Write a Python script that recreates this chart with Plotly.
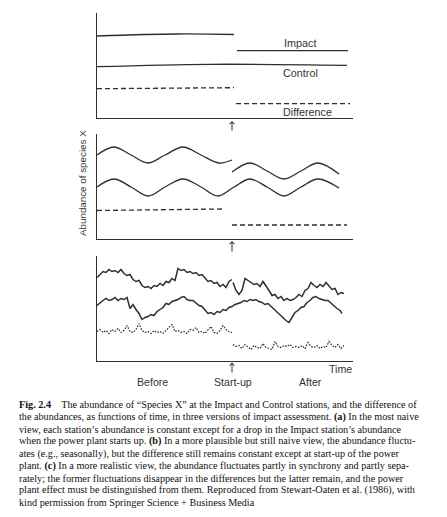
import plotly.graph_objects as go

W, H = 447, 517

# ---------------- data (time in arbitrary units 0..256, start-up at 135) ----------------
STARTUP = 135

# Panel (a): constant levels
a_impact_before_t = [0, 80, 137]
a_impact_before_v = [82, 84, 83.5]
a_impact_after_t = [140, 251]
a_impact_after_v = [67.3, 67.3]
a_control_t = [0, 113, 250]
a_control_v = [51.3, 53.7, 52.7]
a_diff_before_t = [0, 137]
a_diff_before_v = [29.3, 30.3]
a_diff_after_t = [139, 253]
a_diff_after_v = [14.3, 14.3]

# Panel (b): seasonal fluctuation (peaks / troughs / mid points)
b_impact_before_t = [0, 17, 34, 51, 68, 86, 104, 122, 135]
b_impact_before_v = [84, 92, 84, 76, 84, 92, 84, 76, 79]
b_impact_after_t = [135, 153, 170, 187, 204, 221, 242]
b_impact_after_v = [67, 76, 68, 60, 68, 76, 65]
b_control_t = [0, 17, 34, 51, 68, 86, 104, 121, 137, 153, 170, 187, 204, 221, 242]
b_control_v = [52, 60, 52, 43, 52, 60, 52, 43, 52, 60, 52, 43, 52, 60, 51]
b_diff_before_t = [0, 127]
b_diff_before_v = [28.5, 30]
b_diff_after_t = [135, 250]
b_diff_after_v = [14, 14]

# Panel (c): realistic, partly synchronous fluctuation
c_before_t = [0, 3, 6, 9, 12, 15, 18, 21, 24, 27, 30, 33, 36, 39, 42, 45, 48, 51, 54, 57,
              60, 63, 66, 69, 72, 75, 78, 81, 84, 87, 90, 93, 96, 99, 102, 105, 108, 111,
              114, 117, 120, 123, 126, 129, 132, 135]
c_impact_before_v = [83, 86, 89, 88, 91, 89, 90, 88, 91, 87, 85, 86, 81, 79, 80, 75, 73, 74,
                     72, 75, 74, 77, 75, 79, 78, 82, 80, 92, 90, 91, 88, 89, 87, 88, 85, 86,
                     82, 79, 80, 77, 78, 74, 76, 73, 79, 81]
c_diff_before_v = [29, 31, 28, 30, 27, 31, 29, 32, 28, 30, 35, 29, 28, 31, 37, 30, 28, 29,
                   27, 30, 28, 29, 27, 30, 32, 36, 29, 30, 28, 29, 27, 31, 30, 33, 28, 29,
                   27, 30, 34, 28, 27, 30, 35, 31, 29, 28]

c_after_t = [136, 139, 142, 145, 148, 151, 154, 157, 160, 163, 166, 169, 172, 175, 178, 181,
             184, 187, 190, 193, 196, 199, 202, 205, 208, 211, 214, 217, 220, 223, 226, 229,
             232, 235, 238, 241, 244, 247]
c_impact_after_v = [78, 70, 66, 70, 82, 80, 78, 76, 77, 74, 79, 75, 70, 65, 66, 62, 64, 60,
                    62, 60, 61, 63, 66, 64, 70, 72, 78, 75, 73, 76, 74, 78, 75, 71, 72, 66,
                    68, 67]
c_diff_after_v = [16, 14, 15, 12, 16, 13, 11, 15, 13, 12, 17, 13, 12, 11, 19, 14, 13, 15, 14,
                  16, 13, 14, 13, 15, 12, 18, 14, 13, 15, 12, 14, 13, 19, 15, 13, 16, 12, 15]

c_control_t = [0, 3, 6, 9, 12, 15, 18, 21, 24, 27, 30, 33, 36, 39, 42, 45, 48, 51, 54, 57,
               60, 63, 66, 69, 72, 75, 78, 81, 84, 87, 90, 93, 96, 99, 102, 105, 108, 111,
               114, 117, 120, 123, 126, 129, 132, 135, 138, 141, 144, 147, 150, 153, 156,
               159, 162, 165, 168, 171, 174, 177, 180, 183, 186, 189, 192, 195, 198, 201,
               204, 207, 210, 213, 216, 219, 222, 225, 228, 231, 234, 237, 240, 243, 245]
c_control_v = [55, 58, 60, 62, 60, 61, 63, 60, 62, 61, 63, 52, 56, 51, 47, 41, 43, 44, 46, 45,
               49, 51, 53, 57, 56, 59, 60, 61, 63, 64, 61, 60, 60, 57, 55, 54, 50, 47, 48,
               46, 49, 48, 51, 50, 53, 54, 56, 57, 58, 60, 59, 61, 60, 61, 59, 58, 56, 57,
               54, 52, 48, 45, 42, 40, 38, 43, 48, 50, 53, 54, 58, 60, 63, 64, 62, 61, 60,
               60, 57, 55, 52, 50, 47]

panel_a_labels = ["Impact", "Control", "Difference"]
panel_a_label_t = [203, 203, 210]
panel_a_label_v = [75, 45, 6]
time_labels = ["Before", "Start-up", "After"]
y_title = "Abundance of species X"

caption_lines = [
    "<b>Fig. 2.4</b>\u00a0\u00a0\u00a0\u00a0The abundance of \u201cSpecies X\u201d at the Impact and Control stations, and the difference of",
    "the abundances, as functions of time, in three versions of impact assessment. <b>(a)</b> In the most naive",
    "view, each station\u2019s abundance is constant except for a drop in the Impact station\u2019s abundance",
    "when the power plant starts up. <b>(b)</b> In a more plausible but still naive view, the abundance fluctu-",
    "ates (e.g., seasonally), but the difference still remains constant except at start-up of the power",
    "plant. <b>(c)</b> In a more realistic view, the abundance fluctuates partly in synchrony and partly sepa-",
    "rately; the former fluctuations disappear in the differences but the latter remain, and the power",
    "plant effect must be distinguished from them. Reproduced from Stewart-Oaten et al. (1986), with",
    "kind permission from Springer Science + Business Media",
]

# ---------------- figure ----------------
INK = "#2e2e2e"
TXT = "#333333"
SANS = "Liberation Sans, Arial, sans-serif"
SERIF = "Liberation Serif, Times New Roman, serif"


def py(p):
    return 1 - p / H


def px(p):
    return p / W


fig = go.Figure()

xdom = [px(97), px(353)]
panels = [(13, 118), (134, 239), (256, 360.5)]
axis_names = [("x", "y"), ("x2", "y2"), ("x3", "y3")]


def add_line(panel, t, v, dash="solid", shape="linear", width=1.3):
    xa, ya = axis_names[panel]
    fig.add_trace(go.Scatter(
        x=t, y=v, mode="lines", xaxis=xa, yaxis=ya,
        line=dict(color=INK, width=width, dash=dash, shape=shape),
        hoverinfo="skip", showlegend=False))


DASH = "5px,3px"
DOT = "1.6px,1.4px"

# (a)
add_line(0, a_impact_before_t, a_impact_before_v, shape="spline")
add_line(0, a_impact_after_t, a_impact_after_v)
add_line(0, a_control_t, a_control_v, shape="spline")
add_line(0, a_diff_before_t, a_diff_before_v, dash=DASH)
add_line(0, a_diff_after_t, a_diff_after_v, dash=DASH)
# (b)
add_line(1, b_impact_before_t, b_impact_before_v, shape="spline")
add_line(1, b_impact_after_t, b_impact_after_v, shape="spline")
add_line(1, b_control_t, b_control_v, shape="spline")
add_line(1, b_diff_before_t, b_diff_before_v, dash=DASH)
add_line(1, b_diff_after_t, b_diff_after_v, dash=DASH)
# (c)
add_line(2, c_before_t, c_impact_before_v, width=1.5)
add_line(2, c_after_t, c_impact_after_v, width=1.5)
add_line(2, c_control_t, c_control_v, width=1.5)
add_line(2, c_before_t, c_diff_before_v, dash=DOT, width=1.2)
add_line(2, c_after_t, c_diff_after_v, dash=DOT, width=1.2)

layout = dict(
    width=W, height=H, margin=dict(l=0, r=0, t=0, b=0),
    paper_bgcolor="white", plot_bgcolor="white", showlegend=False,
)
for i, (top, bot) in enumerate(panels):
    xk = "xaxis" if i == 0 else f"xaxis{i+1}"
    yk = "yaxis" if i == 0 else f"yaxis{i+1}"
    layout[xk] = dict(domain=xdom, range=[0, 256], showline=True, linecolor=INK, linewidth=1.2,
                      showgrid=False, zeroline=False, showticklabels=False, ticks="",
                      anchor=f"y{i+1}" if i else "y", fixedrange=True)
    layout[yk] = dict(domain=[py(bot), py(top)], range=[0, bot - top], showline=True,
                      linecolor=INK, linewidth=1.2, showgrid=False, zeroline=False,
                      showticklabels=False, ticks="", anchor=f"x{i+1}" if i else "x",
                      fixedrange=True)
fig.update_layout(**layout)

ann = []
for lab, t, v in zip(panel_a_labels, panel_a_label_t, panel_a_label_v):
    ann.append(dict(x=t, y=v, xref="x", yref="y", text=lab, showarrow=False,
                    xanchor="center", yanchor="middle",
                    font=dict(family=SANS, size=10.8, color=TXT)))
for i, (head, tail) in enumerate([(121, 132), (241, 253), (362.5, 374)]):
    xa = "x" if i == 0 else f"x{i+1}"
    ann.append(dict(x=STARTUP, y=py(head), xref=xa, yref="paper", ax=0, ay=tail - head,
                    axref="pixel", ayref="pixel", text="", showarrow=True,
                    arrowhead=4, arrowsize=0.9, arrowwidth=1, arrowcolor=INK))
for lab, xp in zip(time_labels, [152.5, 233, 310]):
    ann.append(dict(x=px(xp), y=py(382.3), xref="paper", yref="paper", text=lab,
                    showarrow=False, xanchor="center", yanchor="middle",
                    font=dict(family=SANS, size=10.6, color=TXT)))
ann.append(dict(x=px(340), y=py(369.3), xref="paper", yref="paper", text="Time",
                showarrow=False, xanchor="center", yanchor="middle",
                font=dict(family=SANS, size=10.6, color=TXT)))
ann.append(dict(x=px(82), y=py(183), xref="paper", yref="paper", text=y_title, textangle=-90,
                showarrow=False, xanchor="center", yanchor="middle",
                font=dict(family=SANS, size=9.8, color=TXT)))
for k, line in enumerate(caption_lines):
    ann.append(dict(x=px(17), y=py(404.8 + 12.2 * k), xref="paper", yref="paper", text=line,
                    showarrow=False, xanchor="left", yanchor="middle", align="left",
                    font=dict(family=SERIF, size=10.2, color="#111111")))

fig.update_layout(annotations=ann)
fig.write_html("out.html")
